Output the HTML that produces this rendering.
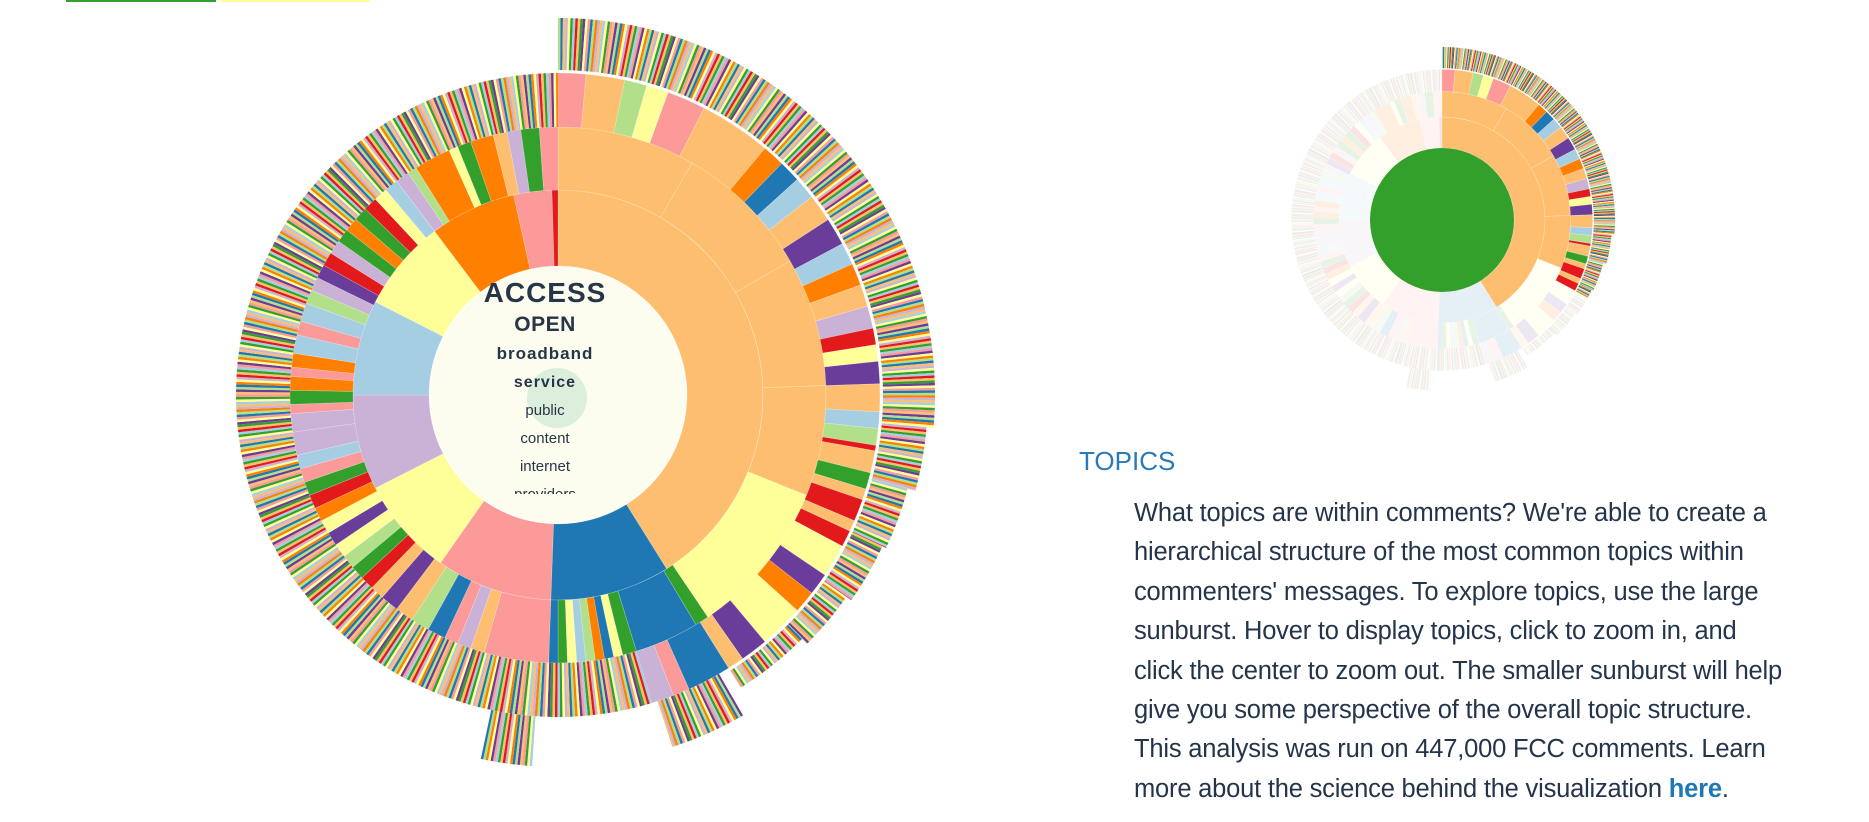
<!DOCTYPE html>
<html><head><meta charset="utf-8">
<style>
html,body{margin:0;padding:0;background:#fff;width:1869px;height:822px;overflow:hidden;font-family:"Liberation Sans",sans-serif;}
#topbar1{position:absolute;left:66px;top:0;width:150px;height:2px;background:#33a02c;}
#topbar2{position:absolute;left:220px;top:0;width:150px;height:2px;background:#ffff99;}
svg{position:absolute;left:0;top:0;}
#topics{position:absolute;left:1079px;top:446px;font-size:26px;color:#2a7ab8;}
#para{position:absolute;left:1134px;top:494px;font-size:25.5px;line-height:39.4px;color:#24344a;letter-spacing:-0.2px;}
#para div{white-space:nowrap;}
#para a{color:#1f78b4;font-weight:bold;text-decoration:none;}
</style></head>
<body>
<div id="topbar1"></div>
<div id="topbar2"></div>
<svg id="chart" width="1869" height="822"></svg>
<div id="topics">TOPICS</div>
<div id="para">
<div>What topics are within comments? We're able to create a</div>
<div>hierarchical structure of the most common topics within</div>
<div>commenters' messages. To explore topics, use the large</div>
<div>sunburst. Hover to display topics, click to zoom in, and</div>
<div>click the center to zoom out. The smaller sunburst will help</div>
<div>give you some perspective of the overall topic structure.</div>
<div>This analysis was run on 447,000 FCC comments. Learn</div>
<div>more about the science behind the visualization <a>here</a>.</div>
</div>
<script>
const C={lb:'#a6cee3',b:'#1f78b4',lg:'#b2df8a',g:'#33a02c',pk:'#fb9a99',r:'#e31a1c',lo:'#fdbf6f',o:'#ff7f00',lv:'#cab2d6',pu:'#6a3d9a',y:'#ffff99'};
const ring1=[[0,148,'lo'],[148,182,'b'],[182,215,'pk'],[215,243,'y'],[243,270,'lv'],[270,297,'lb'],[297,323,'y'],[323,347.5,'o'],[347.5,358.3,'pk'],[358.3,360,'r']];
const ring2=[[0,30,'lo'],[30,60,'lo'],[60,88,'lo'],[88,112,'lo'],[112,146,'y'],[146,149,'g'],[149,163,'b'],[163,166,'g'],[166,168,'y'],[168,170,'b'],[170,172,'o'],[172,174,'lg'],[174,176,'lb'],[176,178,'y'],[178,180,'g'],[180,182,'b'],
[182,196,'pk'],[196,199,'lo'],[199,202,'lv'],[202,205,'pk'],[205,209,'b'],[209,213,'lg'],[213,217,'lo'],[217,221,'pu'],[221,224,'lo'],[224,227,'r'],[227,230,'g'],[230,233,'lg'],[233,236,'y'],[236,239,'pu'],[239,242,'y'],[242,245,'o'],[245,248,'r'],[248,251,'g'],[251,254,'pk'],[254,257,'lb'],[257,262,'lv'],[262,266,'lv'],[266,268,'pk'],[268,271,'g'],[271,274,'o'],[274,276,'pk'],[276,279,'o'],[279,283,'lb'],[283,286,'pk'],[286,290,'lb'],[290,293,'lg'],[293,296,'lv'],[296,299,'pu'],[299,302,'r'],[302,305,'lv'],[305,308,'g'],[308,311,'o'],[311,314,'g'],[314,317,'r'],[317,320,'y'],[320,323,'lb'],[323,326,'lv'],[326,328,'lg'],[328,336,'o'],[336,338,'y'],[338,341,'g'],[341,346,'o'],[346,349,'lo'],[349,352,'lv'],[352,356,'g'],[356,360,'pk']];
const ring3=[[0,5,'pk'],[5,12,'lo'],[12,16,'lg'],[16,20,'y'],[20,27,'pk'],[27,40,'lo'],[40,44,'o'],[44,48,'b'],[48,52,'lb'],[52,57,'lo'],[57,62,'pu'],[62,66,'lb'],[66,70,'o'],[70,74,'lo'],[74,78,'lv'],[78,81,'r'],[81,84,'y'],[84,88,'pu'],[88,93,'lo'],[93,96,'lb'],[96,99,'lg'],[99,100,'r'],[100,104,'lo'],[104,107,'g'],[107,109,'lo'],[109,113,'r'],[113,115,'lo'],[115,118,'r'],[118,124,'y'],[124,128,'pu'],[128,132,'o'],[132,140,'y'],[140,145,'pu'],[145,148,'lo'],[148,156,'b'],[156,159,'pk'],[159,163,'lv']];
const stripeSeq=['lb','r','lo','g','pu','y','pk','b','lg','o','lv','lo','lb','y','g','pk','lo','pu','lg','b','o','y','lv','r','lo','g','lb','pk','pu','y','o','lg','b','lo','lv','y','g'];
const stripes3=[[163,360,268,322]];
const stripes4=[[0,95,325,377],[95,105,325,370],[105,115,325,362],[115,125,325,358],[125,135,325,352],[135,148,325,345],[150,162,322,370],[184,192,322,372]];
const radii=[129,205,268];

const svg=document.getElementById('chart');
const NS='http://www.w3.org/2000/svg';
function arcPath(cx,cy,r0,r1,a0,a1){
  const t0=a0*Math.PI/180,t1=a1*Math.PI/180,lg=(a1-a0)>180?1:0;
  const p=(r,t)=>[cx+r*Math.sin(t),cy-r*Math.cos(t)];
  const [x1,y1]=p(r1,t0),[x2,y2]=p(r1,t1),[x3,y3]=p(r0,t1),[x4,y4]=p(r0,t0);
  return `M${x1.toFixed(1)},${y1.toFixed(1)}A${r1},${r1} 0 ${lg} 1 ${x2.toFixed(1)},${y2.toFixed(1)}L${x3.toFixed(1)},${y3.toFixed(1)}A${r0},${r0} 0 ${lg} 0 ${x4.toFixed(1)},${y4.toFixed(1)}Z`;
}
function drawSun(g,cx,cy,rmap,opFn){
  function seg(r0,r1,a0,a1,col,stroke,name){
    const e=document.createElementNS(NS,'path');
    e.setAttribute('d',arcPath(cx,cy,rmap(r0),rmap(r1),a0,a1));
    e.setAttribute('fill',C[col]);
    e.setAttribute('fill-opacity',opFn((a0+a1)/2));
    if(stroke){e.setAttribute('stroke','#fff');e.setAttribute('stroke-width','0.6');e.setAttribute('stroke-opacity','0.3');}
    
    
    g.appendChild(e);
  }
  ring1.forEach(s=>seg(radii[0],radii[1],s[0],s[1],s[2],true,'ring1-segment'));
  ring2.forEach(s=>seg(radii[1],radii[2],s[0],s[1],s[2],true,'ring2-segment'));
  ring3.forEach(s=>seg(radii[2],322,s[0],s[1],s[2],true,'ring3-segment'));
  let k=0;
  const doStripes=(arr,w,name)=>arr.forEach(s=>{
    for(let a=s[0];a<s[1]-0.01;a+=w){
      seg(s[2],s[3],a,Math.min(a+w,s[1]),stripeSeq[k%stripeSeq.length],false,name);k++;
    }
  });
  doStripes(stripes3,0.45,'ring3-leaf');
  doStripes(stripes4,0.38,'ring4-leaf');
}
const gBig=document.createElementNS(NS,'g');


svg.appendChild(gBig);
drawSun(gBig,558,395,r=>r,()=>1);
const cen=document.createElementNS(NS,'circle');
cen.setAttribute('cx',558);cen.setAttribute('cy',395);cen.setAttribute('r',128);cen.setAttribute('fill','#fdfdef');


gBig.appendChild(cen);
const hov=document.createElementNS(NS,'circle');
hov.setAttribute('cx',557);hov.setAttribute('cy',398);hov.setAttribute('r',30);hov.setAttribute('fill','#dcefdc');


gBig.appendChild(hov);
const labels=[['ACCESS',302,28,600,1],['OPEN',331,21,700,0.5],['broadband',359,17,700,1],['service',387,16,700,1],['public',415,15,400,0],['content',443,15,400,0],['internet',471,15,400,0],['providers',499,15,400,0]];
const clip=document.createElementNS(NS,'clipPath');clip.setAttribute('id','cc');
const cc=document.createElementNS(NS,'rect');cc.setAttribute('x',400);cc.setAttribute('y',260);cc.setAttribute('width',300);cc.setAttribute('height',234);
clip.appendChild(cc);svg.appendChild(clip);
const gl=document.createElementNS(NS,'g');gl.setAttribute('clip-path','url(#cc)');


svg.appendChild(gl);
labels.forEach(l=>{
  const t=document.createElementNS(NS,'text');
  t.setAttribute('x',545);t.setAttribute('y',l[1]);t.setAttribute('text-anchor','middle');
  t.setAttribute('font-size',l[2]);t.setAttribute('font-weight',l[3]);t.setAttribute('letter-spacing',l[4]);
  t.setAttribute('fill','#263548');t.setAttribute('font-family','Liberation Sans, sans-serif');
  t.textContent=l[0];
  
  
  gl.appendChild(t);
});
const gS=document.createElementNS(NS,'g');


svg.appendChild(gS);
drawSun(gS,1442,220,r=>72+(r-129)*(173-72)/(377-129),a=>a<118?1:0.12);
const sc=document.createElementNS(NS,'circle');
sc.setAttribute('cx',1442);sc.setAttribute('cy',220);sc.setAttribute('r',72);sc.setAttribute('fill','#33a02c');


gS.appendChild(sc);
</script>
</body></html>
